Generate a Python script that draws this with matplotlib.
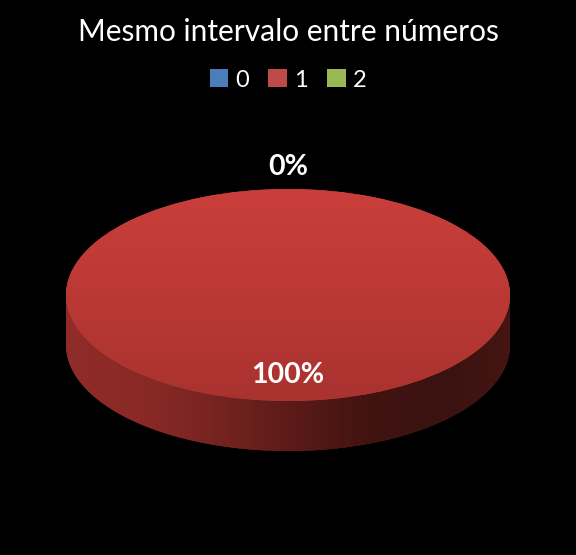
import numpy as np
import matplotlib
matplotlib.use("Agg")
import matplotlib.pyplot as plt
from matplotlib.colors import LinearSegmentedColormap
from matplotlib.patches import Polygon

plt.rcParams["font.family"] = ["Lato", "DejaVu Sans"]

title = "Mesmo intervalo entre números"
categories = ["0", "1", "2"]
values = [0, 100, 0]
show_label = [True, True, False]
colors = ["#4a7ebb", "#be4b48", "#98b954"]

# geometry in pixels (figure is 576x555)
W, H = 576, 555
cx_px, cy_px = 288, 295
rx_px, ry_px = 222, 106
depth_px = 50
s = rx_px / ry_px  # vertical squash

fig = plt.figure(figsize=(W / 100, H / 100), dpi=100, facecolor="black")
ax = fig.add_axes([0, 0, 1, 1])
ax.set_facecolor("black")

cx, cy = cx_px, (H - cy_px) * s
R = rx_px
D = depth_px * s

wedges, _ = ax.pie(values, colors=colors, center=(cx, cy), radius=R,
                   startangle=90, counterclock=False,
                   wedgeprops=dict(linewidth=0))
ax.set_aspect("auto")
ax.axis("off")

side_cmap = LinearSegmentedColormap.from_list(
    "side", ["#902c29", "#8a2926", "#772421", "#5c1b18", "#431411", "#3a1210", "#441512"])
top_cmap = LinearSegmentedColormap.from_list("top", ["#ca3e3b", "#bb3935", "#a9322f"])

# side walls (front half only), drawn under the top faces
for w, v in zip(wedges, values):
    if v <= 0:
        continue
    a1, a2 = sorted((w.theta1, w.theta2))
    for k in (-360, 0, 360):
        lo, hi = max(a1 + k, 180), min(a2 + k, 360)
        if hi <= lo:
            continue
        t = np.radians(np.linspace(lo, hi, 200))
        top = np.column_stack([cx + R * np.cos(t), cy + R * np.sin(t)])
        bot = np.column_stack([cx + R * np.cos(t), cy - D + R * np.sin(t)])[::-1]
        poly = Polygon(np.vstack([top, bot]), closed=True, facecolor="#7a2522",
                       edgecolor="none", zorder=0.5)
        ax.add_patch(poly)
        grad = np.linspace(0, 1, 256).reshape(1, -1)
        im = ax.imshow(grad, cmap=side_cmap, aspect="auto", zorder=0.6,
                       extent=[cx - R, cx + R, cy - R - D, cy], interpolation="bilinear")
        im.set_clip_path(poly)

# gradient on top faces
for w, v in zip(wedges, values):
    w.set_zorder(1)
    if v <= 0:
        continue
    grad = np.linspace(0, 1, 256).reshape(-1, 1)
    im = ax.imshow(grad, cmap=top_cmap, aspect="auto", zorder=1.1,
                   extent=[cx - R, cx + R, cy - R, cy + R], interpolation="bilinear")
    im.set_clip_path(w)

ax.set_xlim(0, W)
ax.set_ylim(0, H * s)

# data labels
total = sum(values)
for w, v, show in zip(wedges, values, show_label):
    if not show:
        continue
    mid = np.radians((w.theta1 + w.theta2) / 2)
    dist = 1.21 if v == 0 else 0.755
    ax.text(cx + dist * R * np.cos(mid), cy + dist * R * np.sin(mid),
            f"{v / total * 100:.0f}%", color="white", fontsize=20.5,
            fontweight="bold", ha="center", va="center", zorder=3)

fig.text(0.5, 1 - 32 / H, title, color="white", fontsize=21.5, ha="center", va="center")
fig.legend(wedges, categories, loc="center", bbox_to_anchor=(0.5, 1 - 80 / H),
           ncol=3, frameon=False, labelcolor="white", fontsize=17,
           handlelength=0.8, handleheight=0.8, handletextpad=0.3,
           columnspacing=0.8)

fig.savefig("out.png", dpi=100, facecolor="black")
